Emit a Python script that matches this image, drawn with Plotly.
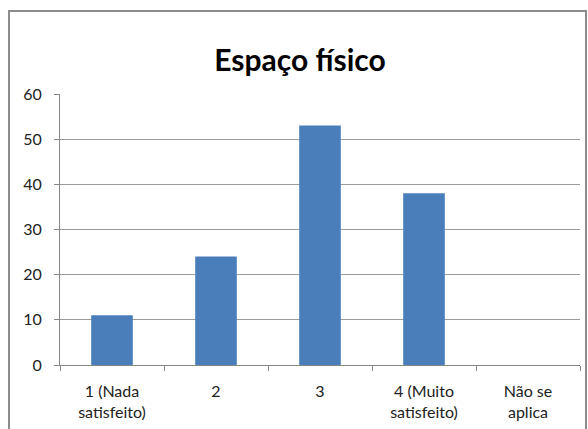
import plotly.graph_objects as go

categories = ["1 (Nada<br>satisfeito)", "2", "3", "4 (Muito<br>satisfeito)", "Não se<br>aplica"]
values = [11, 24, 53, 38, 0]
y_ticks = [0, 10, 20, 30, 40, 50, 60]

W, H = 588, 429
ml, mr, mt, mb = 60, 8, 94, 64
pw, ph = W - ml - mr, H - mt - mb

fig = go.Figure(go.Bar(
    x=categories, y=values,
    marker=dict(color="#4A7EBB", line=dict(width=0)),
))

# outer chart frame
fx0 = (9 - ml) / pw
fx1 = (586 - ml) / pw
fy1 = (H - mb - 11) / ph
fy0 = (H - mb - 440) / ph

fig.update_layout(
    width=W, height=H,
    margin=dict(l=ml, r=mr, t=mt, b=mb),
    paper_bgcolor="white", plot_bgcolor="white",
    font=dict(family="Lato, Carlito, sans-serif", size=16, color="#222"),
    title=dict(text="<b>Espaço físico</b>", x=(300 - ml) / pw, xref="paper", xanchor="center",
               y=1 - 60 / H, yanchor="middle",
               font=dict(size=30, color="#000", family="Lato, sans-serif")),
    bargap=0.6,
    showlegend=False,
    xaxis=dict(showline=True, linecolor="#868686", linewidth=1,
               ticks="outside", ticklen=5, tickcolor="#868686",
               tickson="boundaries", showgrid=False, tickfont=dict(size=16),
               ticklabelstandoff=12),
    yaxis=dict(range=[0, 60], tickvals=y_ticks, showline=True, linecolor="#868686",
               linewidth=1, ticks="outside", ticklen=5, tickcolor="#868686",
               showgrid=True, gridcolor="#9a9a9a", gridwidth=1, zeroline=False,
               tickfont=dict(size=16), ticklabelstandoff=9),
    shapes=[dict(type="rect", xref="paper", yref="paper",
                 x0=fx0, x1=fx1, y0=fy0, y1=fy1,
                 line=dict(color="#8c8c8c", width=2), layer="below")],
)

fig.write_html("out.html")
